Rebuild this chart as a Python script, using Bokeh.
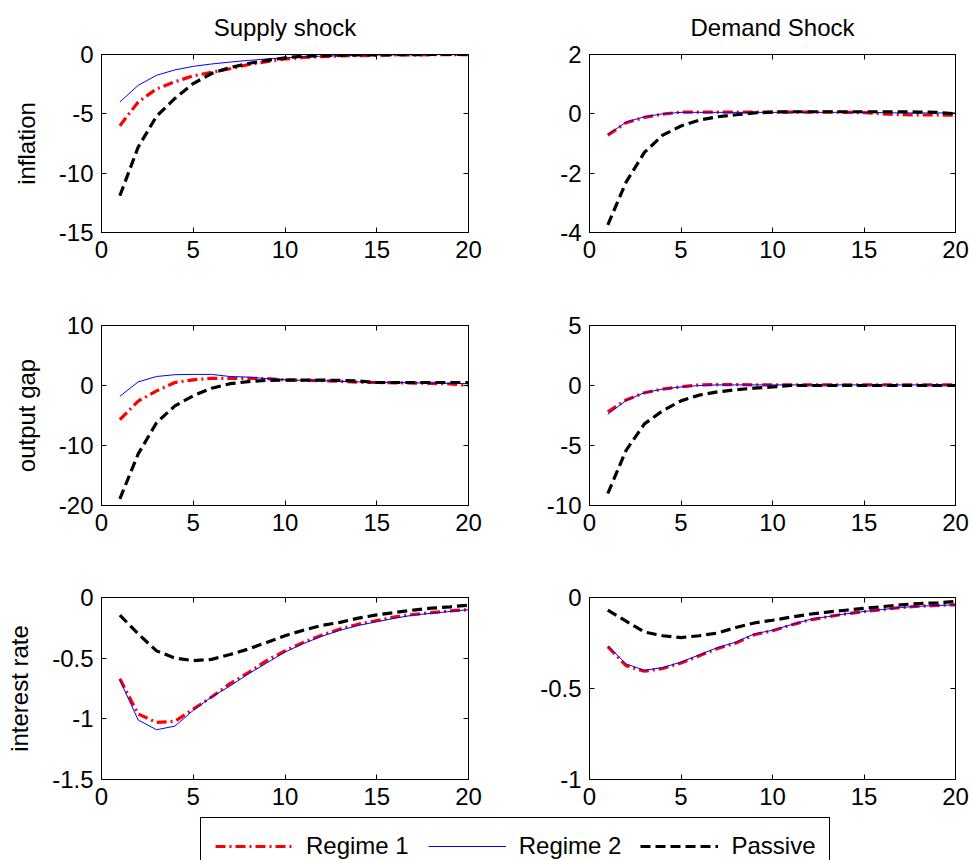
from bokeh.plotting import figure
from bokeh.layouts import column, row
from bokeh.models import (Range1d, LinearAxis, FixedTicker, PrintfTickFormatter,
                          Legend, LegendItem, Title, CustomLabelingPolicy)
from bokeh.embed import file_html
from bokeh.resources import INLINE

periods = list(range(1, 21))

col_titles = ["Supply shock", "Demand Shock"]
row_labels = ["inflation", "output gap", "interest rate"]
legend_labels = ["Regime 1", "Regime 2", "Passive"]

# Supply shock
sup_infl_r1 = [-6.0, -4.0, -2.9, -2.3, -1.8, -1.5, -1.2, -0.85, -0.6, -0.38, -0.25, -0.18, -0.12, -0.09, -0.06, -0.04, -0.03, -0.02, -0.02, -0.01]
sup_infl_r2 = [-4.0, -2.6, -1.75, -1.3, -1.0, -0.8, -0.64, -0.5, -0.38, -0.28, -0.2, -0.14, -0.1, -0.07, -0.05, -0.03, -0.02, -0.01, -0.01, 0.0]
sup_infl_ps = [-11.9, -7.8, -5.2, -3.7, -2.45, -1.6, -1.1, -0.76, -0.5, -0.28, -0.14, -0.1, -0.06, -0.04, -0.03, -0.02, -0.01, 0.0, 0.0, 0.0]

sup_gap_r1 = [-5.7, -2.6, -0.9, 0.5, 0.95, 1.2, 1.2, 1.2, 1.15, 0.95, 0.85, 0.8, 0.7, 0.55, 0.5, 0.45, 0.4, 0.35, 0.25, 0.0]
sup_gap_r2 = [-1.8, 0.6, 1.5, 1.8, 1.85, 1.85, 1.5, 1.4, 1.15, 0.95, 0.85, 0.8, 0.7, 0.6, 0.55, 0.5, 0.45, 0.4, 0.35, 0.3]
sup_gap_ps = [-18.9, -11.4, -6.2, -3.4, -1.7, -0.45, 0.3, 0.65, 0.85, 0.9, 0.9, 0.9, 0.85, 0.75, 0.5, 0.5, 0.5, 0.5, 0.5, 0.5]

sup_rate_r1 = [-0.67, -0.96, -1.03, -1.02, -0.92, -0.82, -0.71, -0.62, -0.52, -0.44, -0.37, -0.31, -0.26, -0.22, -0.19, -0.16, -0.14, -0.125, -0.11, -0.10]
sup_rate_r2 = [-0.68, -1.01, -1.09, -1.06, -0.93, -0.82, -0.73, -0.63, -0.54, -0.45, -0.38, -0.32, -0.27, -0.23, -0.2, -0.17, -0.145, -0.13, -0.115, -0.10]
sup_rate_ps = [-0.145, -0.30, -0.44, -0.50, -0.52, -0.51, -0.47, -0.425, -0.37, -0.315, -0.27, -0.23, -0.205, -0.17, -0.143, -0.123, -0.104, -0.088, -0.077, -0.063]

# Demand shock
dem_infl_r1 = [-0.72, -0.3, -0.12, -0.01, 0.06, 0.06, 0.06, 0.06, 0.06, 0.06, 0.06, 0.06, 0.06, 0.05, 0.04, 0.0, -0.03, -0.04, -0.04, -0.05]
dem_infl_r2 = [-0.7, -0.28, -0.1, 0.0, 0.05, 0.05, 0.05, 0.05, 0.05, 0.05, 0.05, 0.05, 0.05, 0.05, 0.04, 0.04, 0.03, 0.03, 0.03, 0.03]
dem_infl_ps = [-3.74, -2.3, -1.3, -0.72, -0.41, -0.21, -0.1, -0.03, 0.03, 0.06, 0.07, 0.07, 0.07, 0.07, 0.07, 0.07, 0.07, 0.06, 0.05, 0.0]

dem_gap_r1 = [-2.2, -1.2, -0.6, -0.3, -0.1, 0.05, 0.08, 0.08, 0.05, 0.05, 0.05, 0.05, 0.05, 0.05, 0.05, 0.05, 0.05, 0.05, 0.05, 0.05]
dem_gap_r2 = [-2.4, -1.25, -0.6, -0.3, -0.12, 0.0, 0.05, 0.05, 0.05, 0.05, 0.05, 0.05, 0.05, 0.05, 0.05, 0.05, 0.05, 0.05, 0.05, 0.05]
dem_gap_ps = [-9.0, -5.4, -3.2, -2.1, -1.28, -0.8, -0.53, -0.36, -0.22, -0.12, 0.0, 0.0, 0.0, 0.0, 0.0, 0.0, 0.0, 0.0, 0.0, 0.0]

dem_rate_r1 = [-0.27, -0.375, -0.405, -0.39, -0.36, -0.32, -0.28, -0.25, -0.205, -0.183, -0.152, -0.124, -0.106, -0.09, -0.077, -0.066, -0.055, -0.048, -0.044, -0.04]
dem_rate_r2 = [-0.265, -0.365, -0.40, -0.385, -0.355, -0.315, -0.275, -0.245, -0.2, -0.18, -0.15, -0.122, -0.105, -0.09, -0.077, -0.066, -0.055, -0.048, -0.044, -0.04]
dem_rate_ps = [-0.07, -0.13, -0.19, -0.21, -0.22, -0.21, -0.195, -0.165, -0.14, -0.125, -0.108, -0.092, -0.08, -0.07, -0.06, -0.05, -0.04, -0.033, -0.03, -0.022]

x_ticks = [0, 5, 10, 15, 20]
y_specs = [
    [((-15, 0), [-15, -10, -5, 0]), ((-4, 2), [-4, -2, 0, 2])],
    [((-20, 10), [-20, -10, 0, 10]), ((-10, 5), [-10, -5, 0, 5])],
    [((-1.5, 0), [-1.5, -1, -0.5, 0]), ((-1, 0), [-1, -0.5, 0])],
]
series = [
    [(sup_infl_r1, sup_infl_r2, sup_infl_ps), (dem_infl_r1, dem_infl_r2, dem_infl_ps)],
    [(sup_gap_r1, sup_gap_r2, sup_gap_ps), (dem_gap_r1, dem_gap_r2, dem_gap_ps)],
    [(sup_rate_r1, sup_rate_r2, sup_rate_ps), (dem_rate_r1, dem_rate_r2, dem_rate_ps)],
]

FONT = "Liberation Sans"
FS = "24px"
row_heights = [290, 270, 252]
row_top = [54, 35, 37]
row_bottom = [58, 55, 33]
col_widths = [528, 442]
col_left = [101, 61]
col_right = [60, 15]

R1_STYLE = dict(line_color="#ff0000", line_width=3.2, line_dash="10 4 2 4")
R2_STYLE = dict(line_color="#0000ff", line_width=1)
PS_STYLE = dict(line_color="#000000", line_width=3.2, line_dash="10 5")

NO_LABELS = CustomLabelingPolicy(code="return 0")


def style_axis(ax, ticks, labels=True):
    ax.ticker = FixedTicker(ticks=ticks)
    ax.formatter = PrintfTickFormatter(format="%g")
    ax.major_tick_in = 5
    ax.major_tick_out = 0
    ax.minor_tick_line_color = None
    ax.axis_line_color = "black"
    ax.major_tick_line_color = "black"
    ax.major_label_text_font = FONT
    ax.major_label_text_color = "black"
    if labels:
        ax.major_label_text_font_size = FS
        ax.major_label_standoff = 8
    else:
        ax.major_label_policy = NO_LABELS
        ax.major_label_text_font_size = "1px"
        ax.major_label_standoff = 0


rows = []
for r in range(3):
    figs = []
    for c in range(2):
        (y0, y1), yt = y_specs[r][c]
        p = figure(width=col_widths[c], height=row_heights[r],
                   x_range=Range1d(0, 20), y_range=Range1d(y0, y1),
                   output_backend="svg", toolbar_location=None,
                   min_border_left=col_left[c], min_border_right=col_right[c],
                   min_border_top=row_top[r], min_border_bottom=row_bottom[r])
        p.grid.visible = False
        p.outline_line_color = "black"
        p.background_fill_color = "white"
        p.border_fill_color = "white"
        style_axis(p.xaxis[0], x_ticks)
        style_axis(p.yaxis[0], yt)
        top_ax = LinearAxis()
        style_axis(top_ax, x_ticks, labels=False)
        p.add_layout(top_ax, "above")
        right_ax = LinearAxis()
        style_axis(right_ax, yt, labels=False)
        p.add_layout(right_ax, "right")
        if c == 0:
            p.yaxis[0].axis_label = row_labels[r]
            p.yaxis[0].axis_label_text_font = FONT
            p.yaxis[0].axis_label_text_font_size = FS
            p.yaxis[0].axis_label_text_font_style = "normal"
            p.yaxis[0].axis_label_text_color = "black"
            p.yaxis[0].axis_label_standoff = 16
        if r == 0:
            t = Title(text=col_titles[c], align="center", text_font=FONT,
                      text_font_size=FS, text_font_style="normal",
                      text_color="black", standoff=19)
            p.add_layout(t, "above")
        s1, s2, s3 = series[r][c]
        p.line(periods, s1, **R1_STYLE)
        p.line(periods, s2, **R2_STYLE)
        p.line(periods, s3, **PS_STYLE)
        figs.append(p)
    rows.append(row(*figs))

# Legend strip
lg = figure(width=970, height=48, x_range=Range1d(0, 1), y_range=Range1d(0, 1),
            output_backend="svg", toolbar_location=None,
            min_border_left=0, min_border_right=0, min_border_top=0, min_border_bottom=0)
lg.axis.visible = False
lg.grid.visible = False
lg.outline_line_color = None
styles = [R1_STYLE, R2_STYLE, PS_STYLE]
rends = [lg.line(x=[-2, -1], y=[-2, -1], **st) for st in styles]
legend = Legend(items=[LegendItem(label=lab, renderers=[rd]) for lab, rd in zip(legend_labels, rends)],
                orientation="horizontal", location=(200, -15),
                label_text_font=FONT, label_text_font_size=FS, label_text_color="black",
                glyph_width=78, label_standoff=13, spacing=19, padding=14,
                margin=0, border_line_color="black", border_line_width=1,
                border_line_alpha=1.0, background_fill_alpha=1.0)
lg.add_layout(legend, "center")

layout = column(*rows, lg)
open("out.html", "w").write(file_html(layout, INLINE))
